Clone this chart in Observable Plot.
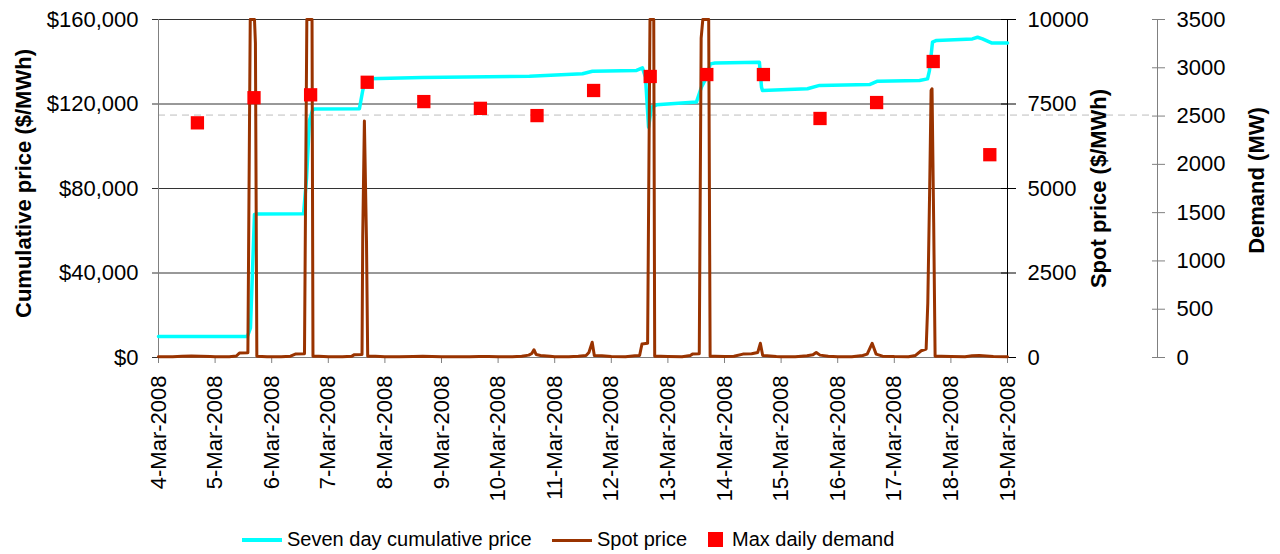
<!DOCTYPE html>
<html>
<head>
<meta charset="utf-8">
<script src="https://cdn.jsdelivr.net/npm/d3@7"></script>
<script src="https://cdn.jsdelivr.net/npm/@observablehq/plot@0.6"></script>
<style>
  html, body { margin: 0; padding: 0; background: #fff; }
  body { font-family: "Liberation Sans", Arial, sans-serif; width: 1280px; }
  #legend { position: relative; width: 1280px; height: 29px; font-size: 20px; color: #000; }
  #legend .sw { position: absolute; }
  #legend .lb { position: absolute; top: 0; line-height: 29px; white-space: nowrap; }
</style>
</head>
<body>
<div id="chart"></div>
<div id="legend"></div>
<script>
// ---------- data ----------
const dayTickLabels = ["4-Mar-2008","5-Mar-2008","6-Mar-2008","7-Mar-2008","8-Mar-2008","9-Mar-2008","10-Mar-2008","11-Mar-2008","12-Mar-2008","13-Mar-2008","14-Mar-2008","15-Mar-2008","16-Mar-2008","17-Mar-2008","18-Mar-2008","19-Mar-2008"];
const cumulativeTicks = [0, 40000, 80000, 120000, 160000];
const spotTicks = [0, 2500, 5000, 7500, 10000];
const demandTicks = [0, 500, 1000, 1500, 2000, 2500, 3000, 3500];
const demandReference = 2500;

const seriesNames = ["Seven day cumulative price", "Spot price", "Max daily demand"];
const seriesColors = ["#00FFFF", "#993300", "#FF0000"];

// Max daily demand (MW), one per day 4-Mar .. 18-Mar, at about 16:30
const demandPeakHour = 16.5;
const maxDailyDemand = [2430, 2690, 2720, 2850, 2650, 2580, 2505, 2765, 2910, 2930, 2930, 2475, 2640, 3065, 2100];

// Seven day cumulative price ($/MWh): hours since 4-Mar 00:00, value
const cumHours  = [0, 37.7, 39.0, 40.7, 41.5, 61.5, 62.8, 64.0, 65.3, 66, 85.2, 86.6, 87.8, 89, 111.9, 157.3, 179.8, 184.0, 202.7, 205.2, 206.5, 207.8, 209.0, 211.2, 228.1, 230.2, 232.4, 234.0, 236, 254.8, 255.7, 256.1, 275.2, 280.3, 301.5, 304.9, 322.7, 326.1, 326.9, 328.2, 329.9, 345.1, 347.3, 349.4, 353.2, 360];
const cumValues = [9900, 9950, 14000, 67700, 67900, 68000, 85200, 112200, 117000, 117600, 117800, 126400, 131600, 131900, 132500, 133100, 134300, 135500, 135900, 137100, 132700, 109000, 118500, 119600, 120900, 127900, 132700, 139000, 139400, 139800, 127900, 126400, 127200, 128800, 129200, 130800, 131100, 131900, 135800, 149300, 150100, 150800, 151600, 150800, 148900, 148900];

// Spot price ($/MWh): hours since 4-Mar 00:00, value
const spotHours  = [0, 6, 10, 14, 18, 22, 24, 30, 33, 34.3, 37.9, 38.9, 40.7, 41.1, 41.7, 46, 52, 56, 58.0, 61.9, 62.9, 65.1, 65.5, 68, 72, 78, 82, 83.1, 86.3, 86.6, 87.3, 88.2, 88.7, 92, 96, 102, 108, 112, 116, 120, 126, 132, 136, 140, 144, 150, 154, 157, 158.3, 159.2, 160.1, 162, 166, 168, 174, 178, 181.3, 182.5, 183.9, 184.8, 188, 192, 198, 202, 204.0, 205.0, 207.4, 208.4, 210.0, 210.4, 213, 216, 222, 225.5, 226.4, 229.3, 230.1, 230.8, 233.3, 233.9, 236, 240, 244, 247.8, 251.5, 254.1, 255.2, 256.2, 258, 262, 264, 270, 275, 277.5, 278.9, 280.5, 284, 288, 294, 298.6, 300.5, 302.6, 304.3, 307, 312, 318, 321, 323.4, 325.5, 326.2, 327.0, 327.6, 328.0, 328.7, 329.3, 332, 336, 342, 345, 348, 351, 354, 360];
const spotValues = [25, 20, 35, 45, 40, 30, 25, 22, 45, 130, 140, 10000, 10000, 9300, 40, 25, 22, 40, 100, 110, 10000, 10000, 40, 35, 25, 22, 40, 85, 90, 3600, 7000, 3400, 40, 35, 25, 20, 30, 35, 30, 22, 20, 25, 30, 28, 25, 20, 40, 70, 120, 230, 90, 60, 40, 25, 22, 40, 60, 150, 450, 60, 50, 30, 25, 50, 60, 400, 420, 10000, 10000, 40, 35, 30, 25, 60, 100, 110, 9450, 10000, 10000, 40, 40, 30, 35, 100, 110, 150, 420, 60, 50, 30, 25, 22, 50, 80, 150, 70, 40, 25, 22, 60, 100, 420, 100, 40, 28, 25, 60, 200, 250, 1600, 5000, 7900, 7950, 4000, 40, 35, 30, 25, 55, 60, 45, 30, 25];

// ---------- derived ----------
const parseDay = d3.utcParse("%d-%b-%Y");
const tickDates = dayTickLabels.map(parseDay);
const t0 = tickDates[0];
const tEnd = tickDates[tickDates.length - 1];
const toTime = h => new Date(+t0 + h * 3600e3);
const labelFor = new Map(tickDates.map((d, i) => [+d, dayTickLabels[i]]));

const cumMax = cumulativeTicks[cumulativeTicks.length - 1];
const spotMax = spotTicks[spotTicks.length - 1];
const demandMax = demandTicks[demandTicks.length - 1];
const spotToY = v => v * cumMax / spotMax;
const demandToY = v => v * cumMax / demandMax;

const cumData = cumHours.map((h, i) => ({t: toTime(h), v: cumValues[i]}));
const spotData = spotHours.map((h, i) => ({t: toTime(h), v: spotValues[i]}));
const demandData = maxDailyDemand.map((v, i) => ({t: new Date(+tickDates[i] + demandPeakHour * 3600e3), v}));

const font = "Liberation Sans, Arial, sans-serif";

const chart = Plot.plot({
  width: 1280,
  height: 525,
  marginTop: 19,
  marginBottom: 168,
  marginLeft: 158,
  marginRight: 273,
  style: {fontFamily: font, fontSize: "22px", background: "#fff", color: "#000", overflow: "visible"},
  x: {type: "utc", domain: [t0, tEnd]},
  y: {domain: [0, cumMax]},
  marks: [
    // gridlines
    Plot.ruleY(cumulativeTicks.slice(1), {stroke: "#333", strokeWidth: 1}),
    // demand reference (dashed) extending to demand axis
    Plot.ruleY([demandToY(demandReference)], {stroke: "#bdbdbd", strokeWidth: 1, strokeDasharray: "7,5", insetRight: -146, dy: -1}),
    // axis lines
    Plot.ruleX([t0], {stroke: "#808080"}),
    Plot.ruleY([0], {stroke: "#808080"}),
    Plot.ruleX([tEnd], {stroke: "#000"}),
    Plot.ruleX([tEnd], {stroke: "#808080", dx: 150}),
    // x axis
    Plot.axisX(tickDates, {tickSize: 6, tickPadding: 12, tickRotate: -90, tickFormat: d => labelFor.get(+d), stroke: "#808080", fill: "#000", label: null}),
    // left axis
    Plot.axisY(cumulativeTicks, {anchor: "left", tickSize: 6, tickPadding: 14, tickFormat: d => "$" + d3.format(",")(d), stroke: "#333", fill: "#000", label: null}),
    // spot axis (crossing ticks + labels)
    Plot.axisY(spotTicks.map(spotToY), {anchor: "right", tickSize: 15, dx: -7, stroke: "#000", fill: "none", label: null}),
    Plot.axisY(spotTicks.map(spotToY), {anchor: "right", tickSize: 0, tickPadding: 20, tickFormat: d => String(Math.round(d * spotMax / cumMax)), fill: "#000", label: null}),
    // demand axis (crossing ticks + labels)
    Plot.axisY(demandTicks.map(demandToY), {anchor: "right", tickSize: 13, dx: 144, stroke: "#808080", fill: "none", label: null}),
    Plot.axisY(demandTicks.map(demandToY), {anchor: "right", tickSize: 0, tickPadding: 169, tickFormat: d => String(Math.round(d * demandMax / cumMax)), fill: "#000", label: null}),
    // series
    Plot.line(cumData, {x: "t", y: "v", stroke: seriesColors[0], strokeWidth: 3.5, strokeLinejoin: "round"}),
    Plot.line(spotData, {x: "t", y: d => spotToY(d.v), stroke: seriesColors[1], strokeWidth: 3, strokeLinejoin: "round"}),
    Plot.dot(demandData, {x: "t", y: d => demandToY(d.v), symbol: "square", r: 7.5, fill: seriesColors[2], stroke: "none"}),
    // axis titles
    Plot.text(["Cumulative price ($/MWh)"], {text: d => d, frameAnchor: "left", textAnchor: "middle", lineAnchor: "middle", rotate: -90, dx: -135, dy: -5, fontWeight: "bold", fontSize: 22, fill: "#000"}),
    Plot.text(["Spot price ($/MWh)"], {text: d => d, frameAnchor: "right", textAnchor: "middle", lineAnchor: "middle", rotate: -90, dx: 91, dy: 0, fontWeight: "bold", fontSize: 22, fill: "#000"}),
    Plot.text(["Demand (MW)"], {text: d => d, frameAnchor: "right", textAnchor: "middle", lineAnchor: "middle", rotate: -90, dx: 249, dy: -8, fontWeight: "bold", fontSize: 22, fill: "#000"})
  ]
});
document.getElementById("chart").appendChild(chart);

// ---------- legend ----------
const legend = document.getElementById("legend");
const legendItems = [
  {swLeft: 242, sw: {width: 40, height: 4, top: 13}, textLeft: 287},
  {swLeft: 552, sw: {width: 40, height: 3, top: 13.5}, textLeft: 597},
  {swLeft: 708, sw: {width: 15, height: 15, top: 7}, textLeft: 732}
];
legendItems.forEach((it, i) => {
  const s = document.createElement("div");
  s.className = "sw";
  s.style.left = it.swLeft + "px";
  s.style.top = it.sw.top + "px";
  s.style.width = it.sw.width + "px";
  s.style.height = it.sw.height + "px";
  s.style.background = seriesColors[i];
  legend.appendChild(s);
  const t = document.createElement("div");
  t.className = "lb";
  t.style.left = it.textLeft + "px";
  t.textContent = seriesNames[i];
  legend.appendChild(t);
});
</script>
</body>
</html>
